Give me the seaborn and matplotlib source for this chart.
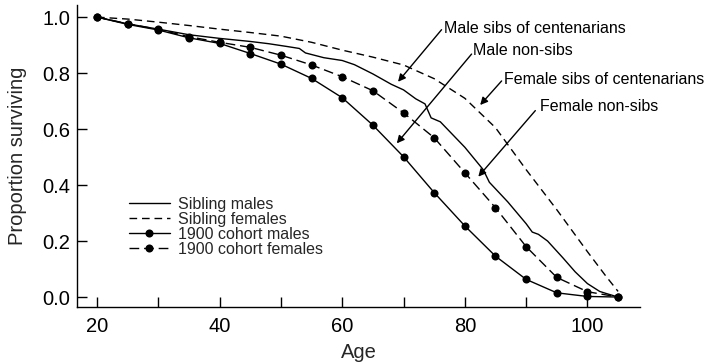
import numpy as np
import pandas as pd
import matplotlib
matplotlib.use("Agg")
import matplotlib.pyplot as plt
import seaborn as sns

# ---- data ----
cohort_ages = [20, 25, 30, 35, 40, 45, 50, 55, 60, 65, 70, 75, 80, 85, 90, 95, 100, 105]
cohort_males = [1.0, 0.974, 0.954, 0.926, 0.906, 0.870, 0.832, 0.781, 0.712, 0.614,
                0.501, 0.373, 0.254, 0.146, 0.063, 0.015, 0.002, 0.0]
cohort_females = [1.0, 0.976, 0.956, 0.930, 0.910, 0.892, 0.864, 0.829, 0.787, 0.737,
                  0.658, 0.569, 0.444, 0.319, 0.180, 0.070, 0.019, 0.0]

sib_male_ages = [20, 25, 30, 35, 40, 45, 48, 51, 53, 54, 57, 60, 62, 65, 68, 70, 72, 73.5,
                 74, 74.5, 76, 80, 83, 84, 87, 90, 91, 92, 93.5, 96, 98, 100, 102, 103, 105]
sib_males = [1.0, 0.976, 0.957, 0.937, 0.924, 0.913, 0.905, 0.895, 0.888, 0.872, 0.855,
             0.845, 0.830, 0.797, 0.760, 0.740, 0.708, 0.690, 0.665, 0.640, 0.626, 0.535,
             0.455, 0.410, 0.340, 0.262, 0.232, 0.224, 0.200, 0.140, 0.090, 0.048, 0.020,
             0.013, 0.0]

sib_female_ages = [20, 25, 30, 35, 40, 45, 50, 55, 60, 65, 70, 75, 80, 85, 90, 95, 100, 103, 105]
sib_females = [1.0, 0.993, 0.982, 0.970, 0.957, 0.945, 0.932, 0.910, 0.882, 0.857, 0.829,
               0.780, 0.710, 0.605, 0.455, 0.312, 0.162, 0.075, 0.02]

legend_labels = ["Sibling males", "Sibling females", "1900 cohort males", "1900 cohort females"]
annotations = ["Male sibs of centenarians", "Male non-sibs",
               "Female sibs of centenarians", "Female non-sibs"]

# ---- style ----
sns.set_style("ticks")
plt.rcParams["font.family"] = ["Liberation Sans", "DejaVu Sans"]

fig = plt.figure(figsize=(7.05, 3.63), dpi=100)
ax = fig.add_axes([0.109, 0.154, 0.799, 0.832])

lw = 1.0
sns.lineplot(x=sib_male_ages, y=sib_males, ax=ax, color="black", lw=lw, estimator=None, sort=False)
sns.lineplot(x=sib_female_ages, y=sib_females, ax=ax, color="black", lw=lw, estimator=None,
             sort=False, dashes=False)
sns.lineplot(x=cohort_ages, y=cohort_males, ax=ax, color="black", lw=lw, marker="o",
             markersize=5.8, markeredgewidth=0, estimator=None, sort=False)
sns.lineplot(x=cohort_ages, y=cohort_females, ax=ax, color="black", lw=lw, marker="o",
             markersize=5.8, markeredgewidth=0, estimator=None, sort=False)

lines = ax.get_lines()
lines[1].set_dashes((5.5, 3.5))
lines[3].set_dashes((7, 3.5))
for ln, lab in zip(lines, legend_labels):
    ln.set_label(lab)

ax.set_xlim(16.7, 108.6)
ax.set_ylim(-0.036, 1.043)
ax.set_xticks([20, 40, 60, 80, 100])
ax.set_xticks([30, 50, 70, 90], minor=True)
ax.set_yticks([0.0, 0.2, 0.4, 0.6, 0.8, 1.0])
ax.set_yticklabels([f"{v:.1f}" for v in [0.0, 0.2, 0.4, 0.6, 0.8, 1.0]])
ax.tick_params(axis="both", which="both", direction="in", length=7.5, width=1.0,
               labelsize=14.5, color="black", labelcolor="black")
ax.tick_params(axis="x", pad=7)
ax.tick_params(axis="y", pad=5)
for s in ["top", "right"]:
    ax.spines[s].set_visible(False)
for s in ["left", "bottom"]:
    ax.spines[s].set_linewidth(1.0)
    ax.spines[s].set_color("black")

ax.set_xlabel("Age", fontsize=14.5, labelpad=5)
ax.set_ylabel("Proportion surviving", fontsize=14.5, labelpad=11)

ax.legend(handles=lines, labels=legend_labels, loc="upper left",
          bbox_to_anchor=(0.092, 0.365), frameon=False, fontsize=11.5,
          handlelength=2.6, handletextpad=0.5, labelspacing=0.0,
          borderpad=0, borderaxespad=0, numpoints=1)

arrow = dict(arrowstyle="-|>", color="black", lw=1.0, mutation_scale=11,
             shrinkA=0, shrinkB=0)
ann_pos = [
    # text xy, arrow tail, arrow head (data coords)
    ((76.6, 0.96), (76.2, 0.955), (69.1, 0.769)),
    ((81.4, 0.88), (81.1, 0.868), (68.9, 0.549)),
    ((86.4, 0.778), (86.0, 0.772), (82.5, 0.686)),
    ((92.2, 0.679), (91.5, 0.666), (82.2, 0.430)),
]
for txt, (tpos, tail, head) in zip(annotations, ann_pos):
    ax.text(tpos[0], tpos[1], txt, fontsize=11.5, ha="left", va="center", color="black")
    ax.annotate("", xy=head, xytext=tail, arrowprops=arrow)

fig.savefig("out.png", dpi=100)
